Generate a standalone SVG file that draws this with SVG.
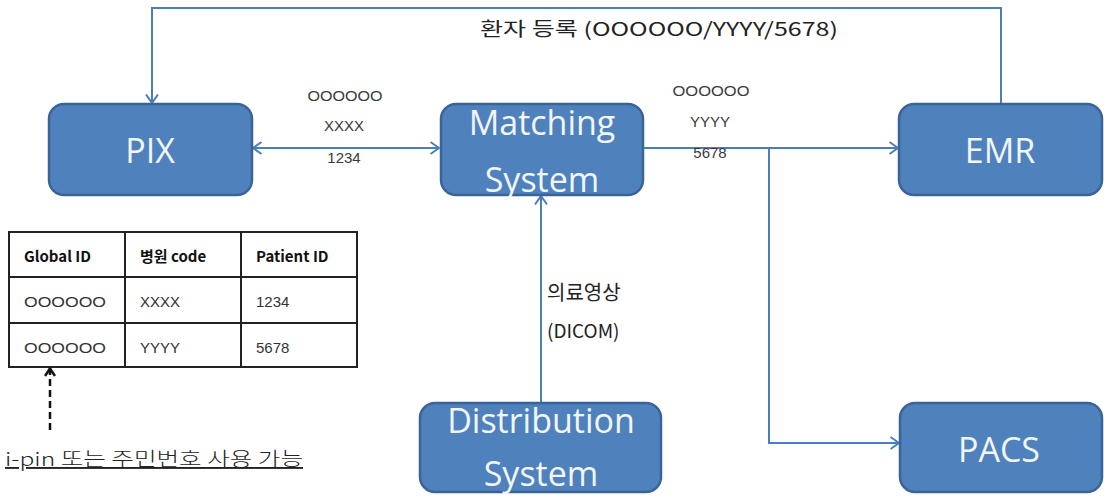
<svg xmlns="http://www.w3.org/2000/svg" width="1104" height="497" viewBox="0 0 1104 497">
  <defs>
    <style>
      .node { fill: #4F81BD; stroke: #3A6497; stroke-width: 2.5; }
      .nlabel { font-family: "Open Sans", "Noto Sans", "Liberation Sans", sans-serif; font-size: 34px; fill: #F2F6FB; text-anchor: middle; }
      .wire { fill: none; stroke: #4A7EBB; stroke-width: 2; }
      .small { font-family: "Liberation Sans", "Noto Sans CJK KR", sans-serif; font-size: 15px; fill: #3a3a3a; }
      .kr { font-family: "Noto Sans CJK KR", "Noto Sans", sans-serif; fill: #222; }
      .grid { fill: #fff; stroke: #222; stroke-width: 2; }
      .th { font-family: "Noto Sans CJK KR", "Liberation Sans", sans-serif; font-size: 15px; font-weight: bold; fill: #111; }
      .td { font-family: "Liberation Sans", "Noto Sans CJK KR", sans-serif; font-size: 15px; fill: #333; }
    </style>
    <marker id="arr" viewBox="0 0 10 14" refX="9.5" refY="7" markerWidth="10" markerHeight="14" markerUnits="userSpaceOnUse" orient="auto-start-reverse">
      <path d="M1,1 L9.5,7 L1,13" fill="none" stroke="#4A7EBB" stroke-width="2"/>
    </marker>
    <marker id="arrDark" viewBox="0 0 12 10" refX="6" refY="1" markerWidth="12" markerHeight="10" markerUnits="userSpaceOnUse" orient="0">
      <path d="M1,9 L6,1.5 L11,9" fill="none" stroke="#111" stroke-width="2.5"/>
    </marker>
  </defs>

  <rect width="1104" height="497" fill="#ffffff"/>

  <!-- connectors -->
  <g id="connectors">
    <path class="wire" d="M1001,104 V8 H152 V103" marker-end="url(#arr)"/>
    <line class="wire" x1="253" y1="148" x2="439" y2="148" marker-start="url(#arr)" marker-end="url(#arr)"/>
    <line class="wire" x1="643" y1="148" x2="898" y2="148" marker-end="url(#arr)"/>
    <path class="wire" d="M769,148 V443 H899" marker-end="url(#arr)"/>
    <line class="wire" x1="541" y1="403" x2="541" y2="196" marker-end="url(#arr)"/>
  </g>

  <!-- connector labels -->
  <g id="labels">
    <text class="kr" x="659" y="36" font-size="19" text-anchor="middle" textLength="358" lengthAdjust="spacingAndGlyphs">환자 등록 (OOOOOO/YYYY/5678)</text>
    <text class="small" x="345" y="101" text-anchor="middle" textLength="75" lengthAdjust="spacingAndGlyphs">OOOOOO</text>
    <text class="small" x="344" y="131" text-anchor="middle">XXXX</text>
    <text class="small" x="344" y="163" text-anchor="middle">1234</text>
    <text class="small" x="711" y="96" text-anchor="middle" textLength="77" lengthAdjust="spacingAndGlyphs">OOOOOO</text>
    <text class="small" x="710" y="127" text-anchor="middle">YYYY</text>
    <text class="small" x="710" y="158" text-anchor="middle">5678</text>
    <text class="kr" x="547" y="300" font-size="20">의료영상</text>
    <text class="kr" x="547" y="338" font-size="19">(DICOM)</text>
  </g>

  <!-- nodes -->
  <g id="pix">
    <rect class="node" x="49" y="104" width="203" height="91" rx="15"/>
    <text class="nlabel" x="150" y="163">PIX</text>
  </g>
  <g id="matching">
    <rect class="node" x="441" y="104" width="202" height="91" rx="15"/>
    <text class="nlabel" x="542" y="135">Matching</text>
    <text class="nlabel" x="542" y="192">System</text>
  </g>
  <g id="emr">
    <rect class="node" x="899" y="104" width="203" height="91" rx="15"/>
    <text class="nlabel" x="1000" y="163">EMR</text>
  </g>
  <g id="distribution">
    <rect class="node" x="420" y="403" width="241" height="89" rx="15"/>
    <text class="nlabel" x="541" y="433" font-size="33">Distribution</text>
    <text class="nlabel" x="541" y="486" font-size="33">System</text>
  </g>
  <g id="pacs">
    <rect class="node" x="900" y="403" width="202" height="89" rx="15"/>
    <text class="nlabel" x="999" y="462">PACS</text>
  </g>

  <!-- ID mapping table -->
  <g id="id-table">
    <rect class="grid" x="9" y="232" width="348" height="135"/>
    <line class="grid" x1="9" y1="277" x2="357" y2="277"/>
    <line class="grid" x1="9" y1="323" x2="357" y2="323"/>
    <line class="grid" x1="125" y1="232" x2="125" y2="367"/>
    <line class="grid" x1="241" y1="232" x2="241" y2="367"/>
    <text class="th" x="24" y="262">Global ID</text>
    <text class="th" x="140" y="262">병원 code</text>
    <text class="th" x="256" y="262">Patient ID</text>
    <text class="td" x="24" y="307" textLength="82" lengthAdjust="spacingAndGlyphs">OOOOOO</text>
    <text class="td" x="140" y="307">XXXX</text>
    <text class="td" x="256" y="307">1234</text>
    <text class="td" x="24" y="353" textLength="82" lengthAdjust="spacingAndGlyphs">OOOOOO</text>
    <text class="td" x="140" y="353">YYYY</text>
    <text class="td" x="256" y="353">5678</text>
  </g>

  <!-- note on the global id -->
  <g id="note">
    <line x1="50" y1="430" x2="50" y2="368" stroke="#111" stroke-width="2.5" stroke-dasharray="7 4" marker-end="url(#arrDark)"/>
    <text class="kr" x="5" y="466" font-size="19" font-weight="300" textLength="298" lengthAdjust="spacingAndGlyphs" text-decoration="underline">i-pin 또는 주민번호 사용 가능</text>
  </g>
</svg>
